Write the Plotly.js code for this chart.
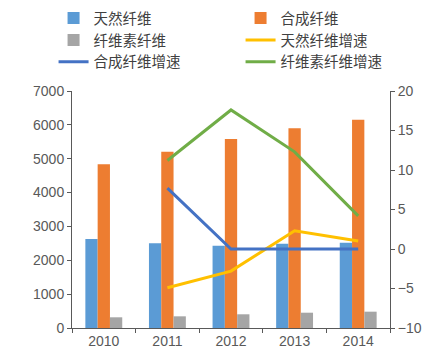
<!DOCTYPE html>
<html><head><meta charset="utf-8">
<script src="https://cdn.plot.ly/plotly-3.0.1.min.js"></script>
<style>body{margin:0;background:#fff}#c{width:435px;height:363px}</style>
</head><body><div id="c"></div>
<script>
const years = ['2010','2011','2012','2013','2014'];
const natural = [2630, 2500, 2430, 2490, 2520];
const synthetic = [4835, 5207, 5582, 5897, 6152];
const cellulose = [316, 345, 405, 452, 482];
const growthYears = ['2011','2012','2013','2014'];
const naturalGrowth = [-4.9, -2.8, 2.3, 1.0];
const syntheticGrowth = [7.7, 0.0, 0.0, 0.0];
const celluloseGrowth = [11.2, 17.6, 12.3, 4.2];
const names = ['天然纤维','合成纤维','纤维素纤维','天然纤维增速','合成纤维增速','纤维素纤维增速'];

const traces = [
  {type:'bar', x:years, y:natural, name:names[0], marker:{color:'#5B9BD5'}},
  {type:'bar', x:years, y:synthetic, name:names[1], marker:{color:'#ED7D31'}},
  {type:'bar', x:years, y:cellulose, name:names[2], marker:{color:'#A5A5A5'}},
  {type:'scatter', mode:'lines', x:growthYears, y:naturalGrowth, name:names[3], yaxis:'y2', line:{color:'#FFC000', width:3}},
  {type:'scatter', mode:'lines', x:growthYears, y:syntheticGrowth, name:names[4], yaxis:'y2', line:{color:'#4472C4', width:3}},
  {type:'scatter', mode:'lines', x:growthYears, y:celluloseGrowth, name:names[5], yaxis:'y2', line:{color:'#70AD47', width:3}}
];
const tickFont = {family:'Liberation Sans, Arial, sans-serif', size:14, color:'#595959'};
const layout = {
  width:435, height:363,
  margin:{l:72, r:45, t:91, b:35, autoexpand:false},
  paper_bgcolor:'#fff', plot_bgcolor:'#fff',
  barmode:'group', bargap:0.42, bargroupgap:0,
  showlegend:true,
  legend:{orientation:'h', x:-0.058, y:1.375, xanchor:'left', yanchor:'top',
    entrywidth:142, entrywidthmode:'pixels', traceorder:'normal', itemwidth:30,
    font:{family:'Noto Sans CJK SC, sans-serif', size:14.5, color:'#404040'}, tracegroupgap:0},
  xaxis:{type:'category', tickson:'boundaries', ticks:'outside', ticklen:4, tickcolor:'#595959',
    showline:true, linecolor:'#595959', linewidth:1, showgrid:false, tickfont:tickFont, zeroline:false},
  yaxis:{range:[0,7000], dtick:1000, ticks:'outside', ticklen:4, tickcolor:'#595959', showline:true,
    linecolor:'#595959', linewidth:1, showgrid:false, zeroline:false, tickfont:tickFont},
  yaxis2:{overlaying:'y', side:'right', range:[-10,20], dtick:5, ticks:'outside', ticklen:4, tickcolor:'#595959',
    showline:true, linecolor:'#595959', linewidth:1, showgrid:false, zeroline:false, tickfont:tickFont}
};
Plotly.newPlot('c', traces, layout, {displayModeBar:false, staticPlot:true});
</script></body></html>
